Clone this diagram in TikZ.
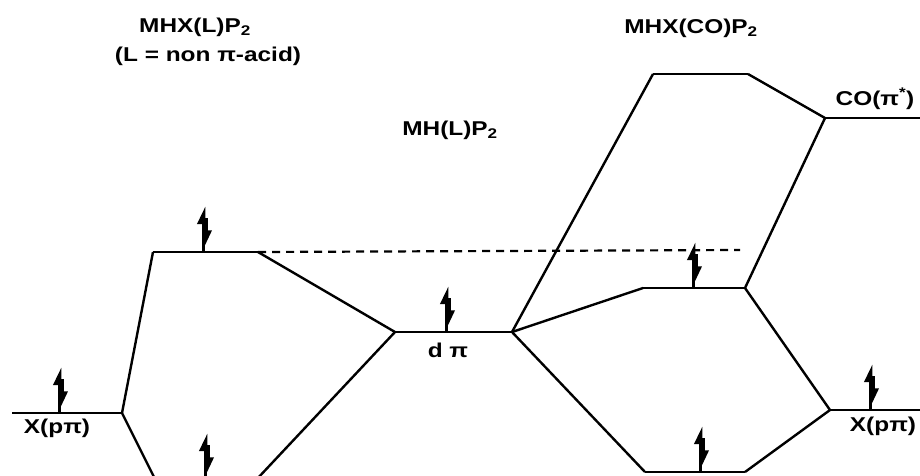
\documentclass[tikz,border=0pt]{standalone}
\usepackage{fontspec}
\setmainfont{Liberation Sans}[FakeStretch=1.22]
\usetikzlibrary{arrows.meta,positioning}
\tikzset{
  level/.style={line width=2.8pt},
  conn/.style={line width=2.4pt},
  dashconn/.style={line width=2.2pt,dash pattern=on 8pt off 6pt},
  spinup/.style={line width=3.6pt,-{Triangle[left,length=14pt,width=12pt]}},
  spindn/.style={line width=3.6pt,-{Triangle[left,length=12pt,width=10pt]}},
  lbl/.style={font=\bfseries\fontsize{20}{22}\selectfont,inner sep=0pt}
}
\newcommand{\epair}[1]{%
  \draw[spinup] ([xshift=-1.5pt]#1) -- ++(0,-46);
  \draw[spindn] ([xshift=1.5pt,yshift=34pt]#1) -- ++(0,28);
}
\begin{document}
\begin{tikzpicture}[x=1pt,y=-1pt]
  \clip (0,0) rectangle (920,475);
  \coordinate (xL1) at (12,413);  \coordinate (xL2) at (122,413);
  \coordinate (aL1) at (153,252); \coordinate (aL2) at (258,252);
  \coordinate (bL1) at (155,479); \coordinate (bL2) at (257,479);
  \coordinate (d1)  at (395,332); \coordinate (d2)  at (512,332);
  \coordinate (t1)  at (653,74);  \coordinate (t2)  at (748,74);
  \coordinate (m1)  at (643,288); \coordinate (m2)  at (745,288);
  \coordinate (b1)  at (645,472); \coordinate (b2)  at (745,472);
  \coordinate (co1) at (825,118); \coordinate (co2) at (922,118);
  \coordinate (xR1) at (830,410); \coordinate (xR2) at (922,410);
  \coordinate (dashend) at (740,250);

  \foreach \a/\b in {xL1/xL2,aL1/aL2,bL1/bL2,d1/d2,t1/t2,m1/m2,b1/b2,co1/co2,xR1/xR2}
    \draw[level] (\a) -- (\b);
  \foreach \a/\b in {xL2/aL1,xL2/bL1,aL2/d1,bL2/d1,d2/t1,d2/m1,d2/b1,t2/co1,m2/co1,m2/xR1,b2/xR1}
    \draw[conn] (\a) -- (\b);
  \draw[dashconn] (aL2) -- (dashend);

  \coordinate (e1) at (61,413);  \coordinate (e2) at (205,252);
  \coordinate (e3) at (207,479); \coordinate (e4) at (448,332);
  \coordinate (e5) at (695,288); \coordinate (e6) at (702,472);
  \coordinate (e7) at (872,410);
  \foreach \e in {e1,e2,e3,e4,e5,e6,e7} \epair{\e};

  \node[lbl] (xLlbl) at (57,428) {X(pπ)};
  \node[lbl] (dlbl) at (448,350) {d π};
  \node[lbl] (xRlbl) at (883,426) {X(pπ)};
  \node[lbl] (colbl) at (875,99) {CO(π\textsuperscript{*})};
  \node[lbl] (mhxl) at (195,27) {MHX(L)P\textsubscript{2}};
  \node[lbl] (lnote) [below=10pt of mhxl.south,anchor=north,xshift=13pt] {(L = non π-acid)};
  \node[lbl] (mhl) at (450,130) {MH(L)P\textsubscript{2}};
  \node[lbl] (mhxco) at (691,28) {MHX(CO)P\textsubscript{2}};
\end{tikzpicture}
\end{document}
